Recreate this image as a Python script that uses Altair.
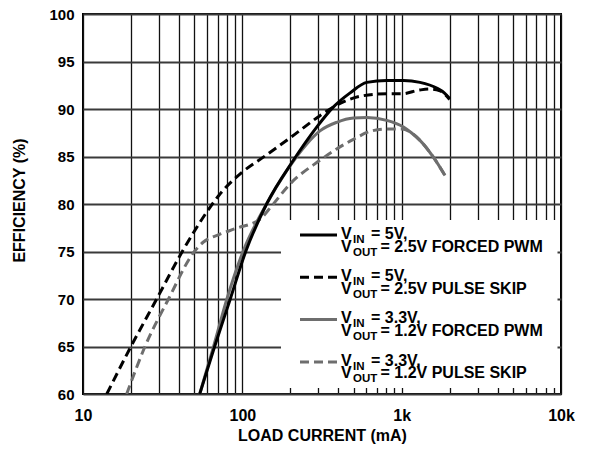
import altair as alt
import pandas as pd

FONT = "Liberation Sans"

# ---- data ----
PWM5_X = [54, 67, 84, 105, 142, 209, 293, 372, 475, 604, 806, 1026, 1303, 1660, 1850, 2000]
PWM5_Y = [60, 65, 70, 75, 80, 84.6, 88.1, 90.2, 91.7, 92.8, 93.0, 93.0, 92.8, 92.2, 91.7, 91.1]

SKIP5_X = [14.1, 20, 29, 42, 63, 72, 99, 140, 201, 307, 372, 452, 575, 806, 1000, 1300, 1500, 1740, 2000]
SKIP5_Y = [60, 65, 70, 75, 79.7, 81.0, 83.3, 85.1, 87.0, 89.3, 90.2, 90.9, 91.4, 91.6, 91.6, 92.0, 92.1, 91.9, 91.0]

PWM33_X = [54, 66, 80, 101, 142, 190, 253, 307, 391, 498, 604, 806, 1026, 1150, 1303, 1585, 1870]
PWM33_Y = [60, 65, 70, 75, 80, 83.5, 86.3, 87.7, 88.6, 89.05, 89.1, 88.8, 88.1, 87.5, 86.7, 84.9, 83.0]

SKIP33_X = [18.8, 24.5, 34.4, 50, 57, 72, 90, 129, 153, 199, 307, 391, 498, 634, 806, 1000, 1150, 1303, 1585, 1870]
SKIP33_Y = [60, 65, 70, 75, 76.0, 76.8, 77.4, 78.4, 79.8, 82.1, 84.6, 85.8, 86.8, 87.65, 87.9, 87.9, 87.5, 86.7, 84.9, 83.0]

LEGEND_VIN = ["5V,", "5V,", "3.3V,", "3.3V,"]
LEGEND_VOUT = ["2.5V FORCED PWM", "2.5V PULSE SKIP", "1.2V FORCED PWM", "1.2V PULSE SKIP"]

X_TICKS = [10, 20, 30, 40, 50, 60, 70, 80, 90,
           100, 200, 300, 400, 500, 600, 700, 800, 900,
           1000, 2000, 3000, 4000, 5000, 6000, 7000, 8000, 9000, 10000]
X_LABELS = {10: "10", 100: "100", 1000: "1k", 10000: "10k"}
Y_TICKS = [60, 65, 70, 75, 80, 85, 90, 95, 100]

# ---- styles ----
BLACK = "#000000"
GRAY = "#6e6e6e"
DASH = [9, 5]
STYLES = [(BLACK, None), (BLACK, DASH), (GRAY, None), (GRAY, DASH)]

label_expr = " : ".join(
    f"datum.value == {k} ? '{v}'" for k, v in X_LABELS.items()
) + " : ''"

x_axis = alt.Axis(
    values=X_TICKS, labelExpr=label_expr, grid=True, gridColor="#111111",
    gridWidth=1.3, gridOpacity=1, domain=False, ticks=False, tickSize=0,
    labelFlush=False, labelOverlap=False, labelPadding=13, labelFont=FONT,
    labelFontSize=16, labelFontWeight="bold", labelColor="black",
    title="LOAD CURRENT (mA)", titleFont=FONT, titleFontSize=16,
    titleFontWeight="bold", titleColor="black", titleX=239, titleY=46,
    titleBaseline="alphabetic", titleAlign="center",
)
y_axis = alt.Axis(
    values=Y_TICKS, grid=True, gridColor="#3a3a3a", gridWidth=2,
    gridOpacity=1, domain=False, ticks=False, tickSize=0, labelPadding=9,
    labelFont=FONT, labelFontSize=15, labelFontWeight="bold",
    labelColor="black", labelFlush=False,
    title="EFFICIENCY (%)", titleFont=FONT, titleFontSize=16,
    titleFontWeight="bold", titleColor="black", titleX=-59, titleY=186,
    titleAngle=270, titleBaseline="alphabetic", titleAlign="center",
)

dummy = pd.DataFrame({"k": [0]})


def curve(xs, ys, color, dash):
    df = pd.DataFrame({"current": xs, "eff": ys})
    kw = dict(color=color, strokeWidth=3, interpolate="monotone", clip=True)
    if dash:
        kw["strokeDash"] = dash
    return alt.Chart(df).mark_line(**kw).encode(
        x=alt.X("current:Q", scale=alt.Scale(type="log", domain=[10, 10000]), axis=x_axis),
        y=alt.Y("eff:Q", scale=alt.Scale(domain=[60, 100]), axis=y_axis),
    )


series = [(PWM5_X, PWM5_Y), (SKIP5_X, SKIP5_Y), (PWM33_X, PWM33_Y), (SKIP33_X, SKIP33_Y)]
curve_layers = [curve(xs, ys, *STYLES[i]) for i, (xs, ys) in enumerate(series)]
# draw gray below black
curve_layers = [curve_layers[2], curve_layers[3], curve_layers[0], curve_layers[1]]

legend_bg = alt.Chart(dummy).mark_rect(color="white", opacity=1).encode(
    x=alt.value(198), x2=alt.value(474.5), y=alt.value(206), y2=alt.value(374)
)


def txt(s, x, y, size):
    return alt.Chart(dummy).mark_text(
        text=s, align="left", baseline="alphabetic", font=FONT,
        fontSize=size, fontWeight="bold", color="black",
    ).encode(x=alt.value(x), y=alt.value(y))


legend_layers = []
for i in range(4):
    yi = 221 + 42.3 * i
    color, dash = STYLES[i]
    kw = dict(color=color, strokeWidth=3)
    if dash:
        kw["strokeDash"] = dash
    legend_layers.append(
        alt.Chart(dummy).mark_rule(**kw).encode(
            x=alt.value(217), x2=alt.value(254), y=alt.value(yi)
        )
    )
    legend_layers += [
        txt("V", 258, yi + 3.7, 16),
        txt("IN", 270, yi + 7.7, 11.5),
        txt("= " + LEGEND_VIN[i], 288, yi + 3.7, 16),
        txt("V", 258, yi + 16.5, 16),
        txt("OUT", 270, yi + 20.5, 11.5),
        txt("= " + LEGEND_VOUT[i], 297.5, yi + 16.5, 16),
    ]

chart = alt.layer(legend_bg, *curve_layers, *legend_layers).properties(
    width=478, height=380,
    autosize=alt.AutoSizeParams(type="none"),
    padding={"left": 75, "top": 6, "right": 20, "bottom": 50},
    background="white",
).configure_view(stroke="black", strokeWidth=2)

chart.save("out.html", embed_options={"renderer": "svg", "actions": False})
